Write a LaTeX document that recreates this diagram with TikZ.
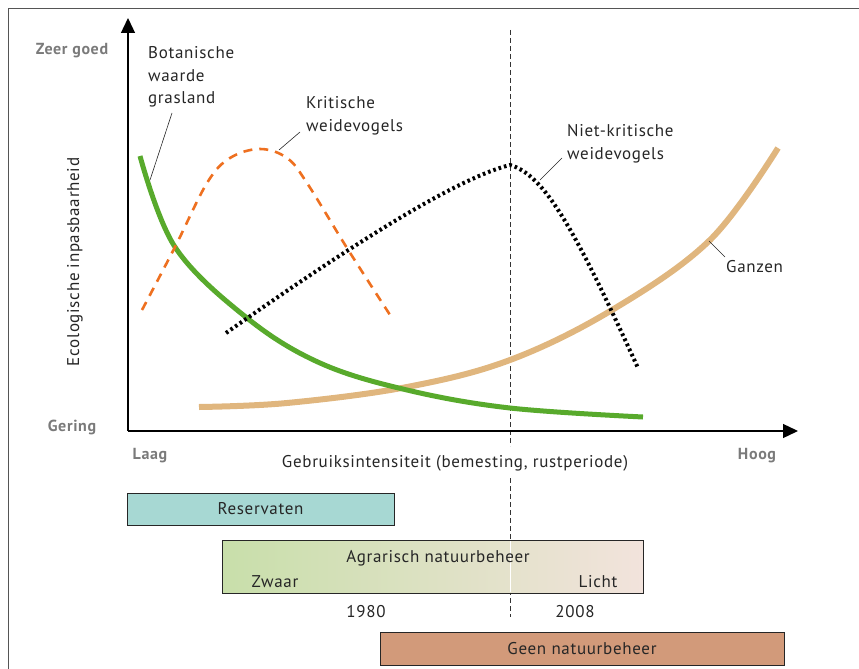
\documentclass[tikz,border=0pt]{standalone}
\usepackage{fontspec}
\setmainfont{PT Sans}[LetterSpace=4]
\usetikzlibrary{arrows.meta}
\definecolor{framecol}{HTML}{555555}
\definecolor{greycol}{HTML}{7A7A7A}
\definecolor{greencurve}{HTML}{58AA2C}
\definecolor{beigecurve}{HTML}{E0B67E}
\definecolor{orangecurve}{HTML}{EE7020}
\definecolor{resfill}{HTML}{A7D8D3}
\definecolor{agleft}{HTML}{C8DFAA}
\definecolor{agright}{HTML}{F2E3DC}
\definecolor{geenfill}{HTML}{D29A7A}
\begin{document}
\begin{tikzpicture}[x=1pt,y=-1pt,
  every node/.style={font=\fontsize{17}{22.5}\selectfont, inner sep=0pt, text=black!85},
  greylabel/.style={font=\fontsize{16}{20}\selectfont\bfseries, text=greycol},
  axisline/.style={line width=1.3pt, -{Triangle[length=15pt,width=14pt]}},
  barbox/.style={draw=black!85, line width=0.9pt},
  leader/.style={line width=0.6pt, black!85},
  curvegreen/.style={greencurve, line width=5pt},
  curvebeige/.style={beigecurve, line width=6pt},
  curveorange/.style={orangecurve, line width=2.6pt, dash pattern=on 9pt off 7pt},
  curveblack/.style={black, line width=4pt, dash pattern=on 2.6pt off 3pt},
  divider/.style={black!80, line width=0.9pt, dash pattern=on 5pt off 3pt}
]
\useasboundingbox (0,0) rectangle (859,669);
% frame
\draw[framecol, line width=1.6pt] (8.5,669) -- (8.5,8.5) -- (859,8.5);

% vertical divider
\draw[divider] (510,30) -- (510,446);
\draw[divider] (510,478) -- (510,617);

% axes
\coordinate (origin) at (128,431);
\coordinate (ytip) at (128,18);
\coordinate (xtip) at (798,431);
\draw[axisline] (origin) -- (ytip);
\draw[axisline] (origin) -- (xtip);

% curves
\draw[curvebeige] plot[smooth, tension=0.6] coordinates {(199,407) (287,403) (407,387) (510,360) (612,310) (710,240) (778,148)};
\draw[curvegreen] plot[smooth, tension=0.6] coordinates {(140,156) (175,247) (247,318) (320,363) (407,390) (510,408) (643,417)};
\draw[curveorange] plot[smooth, tension=0.6] coordinates {(142,310) (175,247) (207,183) (230,158) (260,149) (287,158) (307,183) (347,248) (392,318)};
\draw[curveblack] (226,333) .. controls (330,260) and (450,180) .. (510,165)
                  .. controls (545,175) and (575,230) .. (638,368);

% axis labels
\node[greylabel] (zeergoed) at (72,51) {Zeer goed};
\node[greylabel] (gering) at (72,427) {Gering};
\node[greylabel] (laag) at (150,456) {Laag};
\node[greylabel] (hoog) at (757,456) {Hoog};
\node (xlabel) at (455,463) {Gebruiksintensiteit (bemesting, rustperiode)};
\node[rotate=90] (ylabel) at (75,262) {Ecologische inpasbaarheid};

% curve labels
\node[align=left, anchor=west] (botan) at (148,77) {Botanische\\waarde\\grasland};
\node[align=left, anchor=west] (krit) at (306,116) {Kritische\\weidevogels};
\node[align=left, anchor=west] (niet) at (567,144) {Niet-kritische\\weidevogels};
\node[anchor=west] (ganzen) at (726,267) {Ganzen};

\coordinate (botanend) at (150,180);
\coordinate (botanstart) at (172,113);
\coordinate (kritstart) at (300,132);
\coordinate (kritend) at (279,150);
\coordinate (nietstart) at (562,158);
\coordinate (nietend) at (540,180);
\coordinate (ganzstart) at (725,257);
\coordinate (ganzend) at (709,241);
\draw[leader] (botanstart) -- (botanend);
\draw[leader] (kritstart) -- (kritend);
\draw[leader] (nietstart) -- (nietend);
\draw[leader] (ganzstart) -- (ganzend);

% bars
\node[barbox, fill=resfill, minimum width=267pt, minimum height=32pt] (reserv) at (260.5,509) {Reservaten};
\node[barbox, left color=agleft, right color=agright, minimum width=421pt, minimum height=53pt] (agrar) at (432.5,566.5) {};
\draw[white, line width=0.8pt] (510,541) -- (510,592);
\node (agrartext) at (438,558) {Agrarisch natuurbeheer};
\node (zwaar) at (275,582) {Zwaar};
\node (licht) at (598,582) {Licht};
\node (y1980) at (366,612) {1980};
\node (y2008) at (575,612) {2008};
\node[barbox, fill=geenfill, minimum width=404pt, minimum height=33pt] (geen) at (582,648.5) {Geen natuurbeheer};
\end{tikzpicture}
\end{document}
